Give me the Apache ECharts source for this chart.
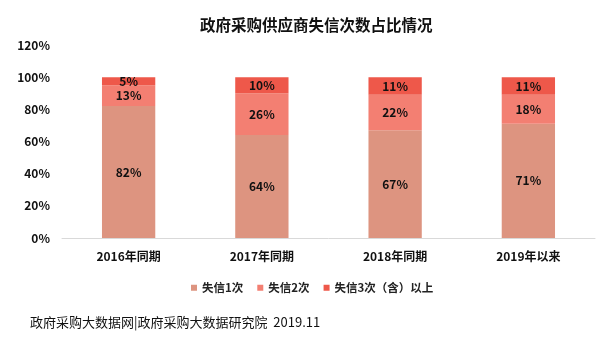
<!DOCTYPE html>
<html><head><meta charset="utf-8">
<script src="https://cdn.jsdelivr.net/npm/echarts@6/dist/echarts.min.js"></script>
<style>html,body{margin:0;padding:0;background:#fff}#c{width:600px;height:348px}</style>
</head><body><div id="c"></div>
<script>
const categories = ['2016年同期','2017年同期','2018年同期','2019年以来'];
const seriesNames = ['失信1次','失信2次','失信3次（含）以上'];
const once = [82, 64, 67, 71];
const twice = [13, 26, 22, 18];
const thrice = [5, 10, 11, 11];
const yTicks = [0, 20, 40, 60, 80, 100, 120];
const colors = ['#DD9480', '#F37F72', '#EE584A'];
const font = '"Noto Sans CJK SC", "Noto Sans", sans-serif';

const chart = echarts.init(document.getElementById('c'));
const mk = (name, data, color) => ({
  name, type: 'bar', stack: 'total', data, barWidth: '40%',
  itemStyle: { color },
  label: { show: true, position: 'inside', formatter: '{c}%', color: '#111', fontSize: 12, fontWeight: 'bold', fontFamily: font }
});
chart.setOption({
  animation: false,
  title: { text: '政府采购供应商失信次数占比情况', left: 195, top: 12,
    textStyle: { fontSize: 15.5, fontWeight: 'bold', color: '#111', fontFamily: font } },
  legend: { data: seriesNames, left: 186, top: 277, itemWidth: 6, itemHeight: 6, itemGap: 14, icon: 'rect',
    textStyle: { fontSize: 11.5, fontWeight: 'bold', color: '#222', fontFamily: font } },
  graphic: [{ type: 'text', left: 30, top: 316, style: { text: '政府采购大数据网|政府采购大数据研究院  2019.11', fontSize: 13, fill: '#111', fontFamily: font } }],
  grid: { left: 62, right: 5, top: 45, bottom: 110 },
  xAxis: { type: 'category', data: categories,
    axisLine: { lineStyle: { color: '#D9D9D9' } }, axisTick: { show: false },
    axisLabel: { fontSize: 12, fontWeight: 'bold', color: '#111', margin: 12, fontFamily: font } },
  yAxis: { type: 'value', min: yTicks[0], max: yTicks[yTicks.length-1], interval: 20,
    splitLine: { show: false }, axisLine: { show: false }, axisTick: { show: false },
    axisLabel: { formatter: '{value}%', fontSize: 12, fontWeight: 'bold', color: '#111', margin: 12, fontFamily: font } },
  series: [mk(seriesNames[0], once, colors[0]), mk(seriesNames[1], twice, colors[1]), mk(seriesNames[2], thrice, colors[2])]
});
</script></body></html>
